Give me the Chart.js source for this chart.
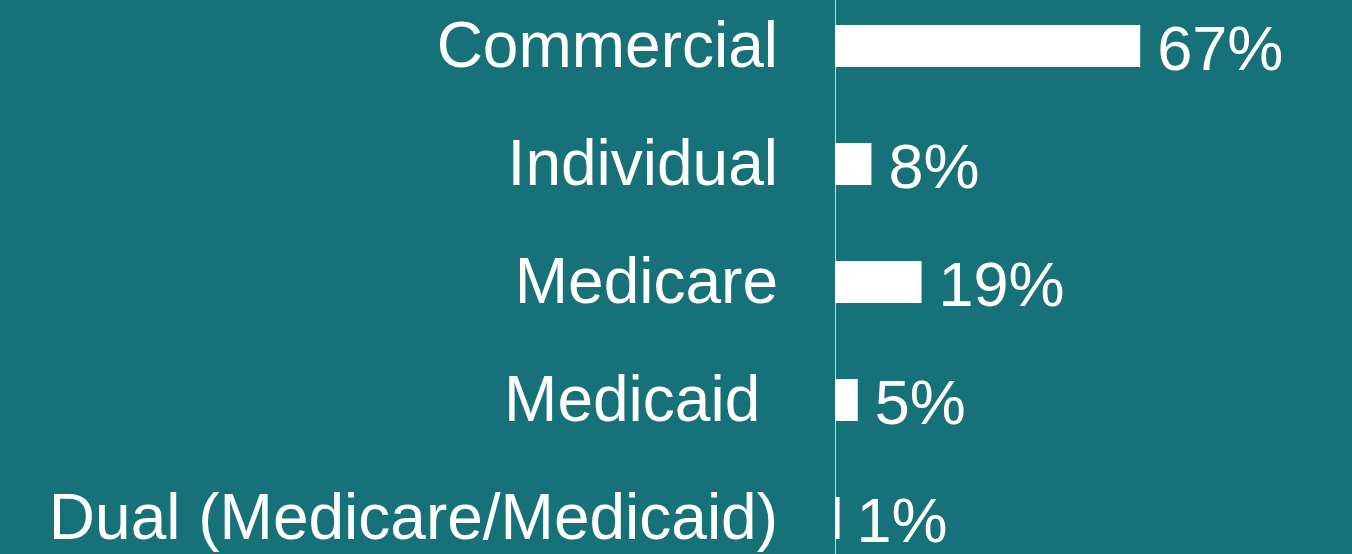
<!DOCTYPE html>
<html>
<head>
<meta charset="utf-8">
<script src="https://cdn.jsdelivr.net/npm/chart.js@4.4.0/dist/chart.umd.min.js"></script>
<style>
  html, body { margin: 0; padding: 0; background: #177179; overflow: hidden; }
  #wrap { position: absolute; left: 0; top: -13px; width: 1352px; height: 590px; }
</style>
</head>
<body>
<div id="wrap"><canvas id="bars"></canvas></div>
<script>
const categories = ['Commercial', 'Individual', 'Medicare', 'Medicaid ', 'Dual (Medicare/Medicaid)']
const shares = [67, 8, 19, 5, 1]
const shareLabels = ['67%', '8%', '19%', '5%', '1%']

const FONT = '"Liberation Sans", Arial, sans-serif'

// category names left of the axis + value labels right of each bar
const textLabels = {
  id: 'textLabels',
  afterDatasetsDraw(chart) {
    const ctx = chart.ctx
    const meta = chart.getDatasetMeta(0)
    const yScale = chart.scales.y
    ctx.save()
    ctx.fillStyle = '#ffffff'
    ctx.textBaseline = 'alphabetic'
    ctx.font = '64px ' + FONT
    ctx.textAlign = 'right'
    categories.forEach((c, i) => {
      ctx.fillText(c, chart.chartArea.left - 57, yScale.getPixelForValue(i) + 21)
    })
    ctx.font = '63px ' + FONT
    ctx.textAlign = 'left'
    meta.data.forEach((bar, i) => {
      ctx.fillText(shareLabels[i], bar.x + 17, bar.y + 24)
    })
    ctx.restore()
  }
}

const barConfig = {
  type: 'bar',
  data: {
    labels: categories,
    datasets: [
      {
        label: 'share',
        backgroundColor: '#ffffff',
        borderWidth: 0,
        data: shares,
        barPercentage: 0.356,
        categoryPercentage: 1.0,
      },
    ],
  },
  options: {
    indexAxis: 'y',
    responsive: true,
    maintainAspectRatio: false,
    animation: false,
    layout: { padding: { left: 835, right: 0, top: 0, bottom: 0 } },
    plugins: {
      legend: { display: false },
      tooltip: { enabled: false },
    },
    scales: {
      x: {
        min: 0,
        max: 113.5,
        display: false,
        grid: { display: false },
      },
      y: {
        grid: { display: false, drawTicks: false },
        border: { display: true, color: '#c9d6d8', width: 1 },
        ticks: { display: false },
      },
    },
  },
  plugins: [textLabels],
}

const barsCtx = document.getElementById('bars')
window.myBar = new Chart(barsCtx, barConfig)
</script>
</body>
</html>
